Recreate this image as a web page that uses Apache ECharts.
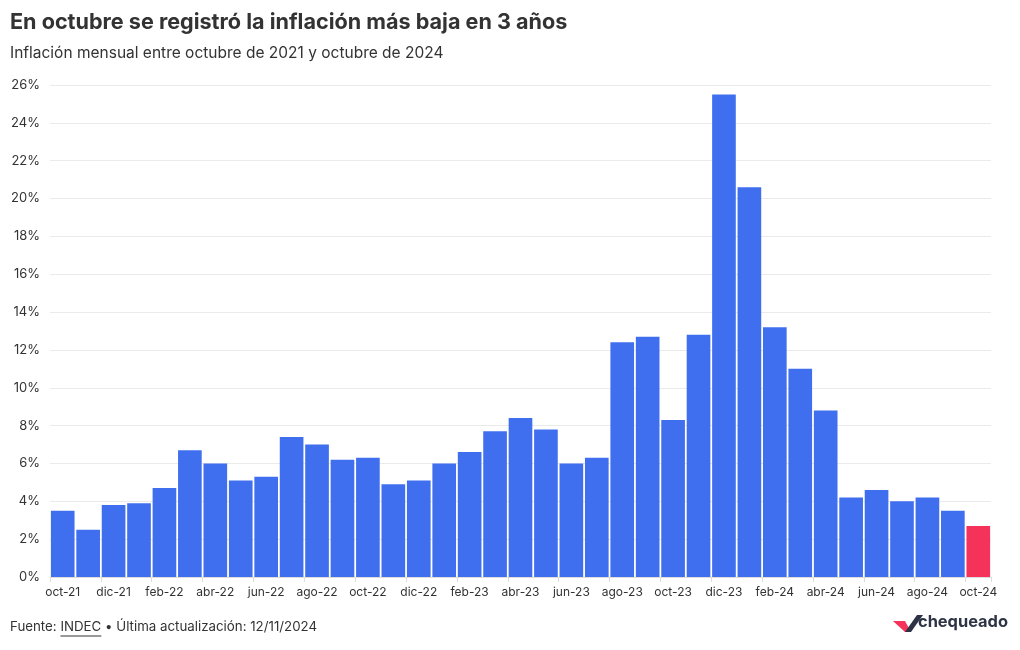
<!DOCTYPE html>
<html><head><meta charset="utf-8">
<script src="https://cdn.jsdelivr.net/npm/echarts@6/dist/echarts.min.js"></script>
<style>html,body{margin:0;padding:0;background:#fff}#c{width:1020px;height:650px}</style>
</head><body><div id="c"></div>
<script>
const categories = ['oct-21','nov-21','dic-21','ene-22','feb-22','mar-22','abr-22','may-22','jun-22','jul-22','ago-22','sep-22','oct-22','nov-22','dic-22','ene-23','feb-23','mar-23','abr-23','may-23','jun-23','jul-23','ago-23','sep-23','oct-23','nov-23','dic-23','ene-24','feb-24','mar-24','abr-24','may-24','jun-24','jul-24','ago-24','sep-24','oct-24'];
const inflation = [3.5,2.5,3.8,3.9,4.7,6.7,6.0,5.1,5.3,7.4,7.0,6.2,6.3,4.9,5.1,6.0,6.6,7.7,8.4,7.8,6.0,6.3,12.4,12.7,8.3,12.8,25.5,20.6,13.2,11.0,8.8,4.2,4.6,4.0,4.2,3.5,2.7];
const BLUE = '#3f6fee', RED = '#f5325a';
const FONT = 'Inter, "Liberation Sans", sans-serif';
const ctx = document.createElement('canvas').getContext('2d');
function tw(text, font) { ctx.font = font; return ctx.measureText(text).width; }
const fFont = '13.3px ' + FONT;
const w1 = tw('Fuente: ', fFont), w2 = tw('INDEC', fFont);
let logoSize = 20;
const logoW = tw('chequeado', 'bold 20px ' + FONT);
logoSize = 20 * 90 / logoW;
const chart = echarts.init(document.getElementById('c'));
chart.setOption({
  backgroundColor: '#fff',
  animation: false,
  title: [
    {text: 'En octubre se registró la inflación más baja en 3 años', left: 10, top: 11, padding: 0,
     textStyle: {fontFamily: FONT, fontSize: 21.6, fontWeight: 'bold', color: '#333'}},
    {text: 'Inflación mensual entre octubre de 2021 y octubre de 2024', left: 10, top: 45, padding: 0,
     textStyle: {fontFamily: FONT, fontSize: 15.5, fontWeight: 'normal', color: '#333'}}
  ],
  grid: {left: 50, right: 29, top: 85, bottom: 73, containLabel: false},
  xAxis: {
    type: 'category', data: categories,
    axisLine: {show: true, lineStyle: {color: '#ddd'}},
    axisTick: {show: true, alignWithLabel: false, length: 5, lineStyle: {color: '#ddd'}},
    axisLabel: {interval: 1, color: '#333', fontFamily: FONT, fontSize: 12, margin: 9}
  },
  yAxis: {
    type: 'value', min: 0, max: 26, interval: 2,
    axisLabel: {formatter: v => v + '%', color: '#333', fontFamily: FONT, fontSize: 13, margin: 10},
    splitLine: {lineStyle: {color: '#eaeaea'}},
    axisLine: {show: false}, axisTick: {show: false}
  },
  series: [{
    type: 'bar', barCategoryGap: '7%',
    data: inflation.map((v, i) => ({value: v, itemStyle: {color: i === inflation.length - 1 ? RED : BLUE}}))
  }],
  graphic: [
    {type: 'text', x: 10, y: 620, style: {text: 'Fuente: ', font: fFont, fill: '#333'}},
    {type: 'text', x: 10 + w1, y: 620, style: {text: 'INDEC', font: fFont, fill: '#333'}},
    {type: 'line', shape: {x1: 10 + w1, y1: 636, x2: 10 + w1 + w2, y2: 636}, style: {stroke: '#333', lineWidth: 1}},
    {type: 'text', x: 10 + w1 + w2, y: 620, style: {text: ' • Última actualización: 12/11/2024', font: fFont, fill: '#333'}},
    {type: 'polygon', shape: {points: [[893,621],[905,621],[911,632],[905,632]]}, style: {fill: RED}},
    {type: 'polygon', shape: {points: [[905,632],[917,615],[923,615],[911,632]]}, style: {fill: '#2d3344'}},
    {type: 'text', x: 918, y: 614, style: {text: 'chequeado', font: 'bold ' + logoSize.toFixed(1) + 'px ' + FONT, fill: '#2d3344'}}
  ]
});
</script></body></html>
